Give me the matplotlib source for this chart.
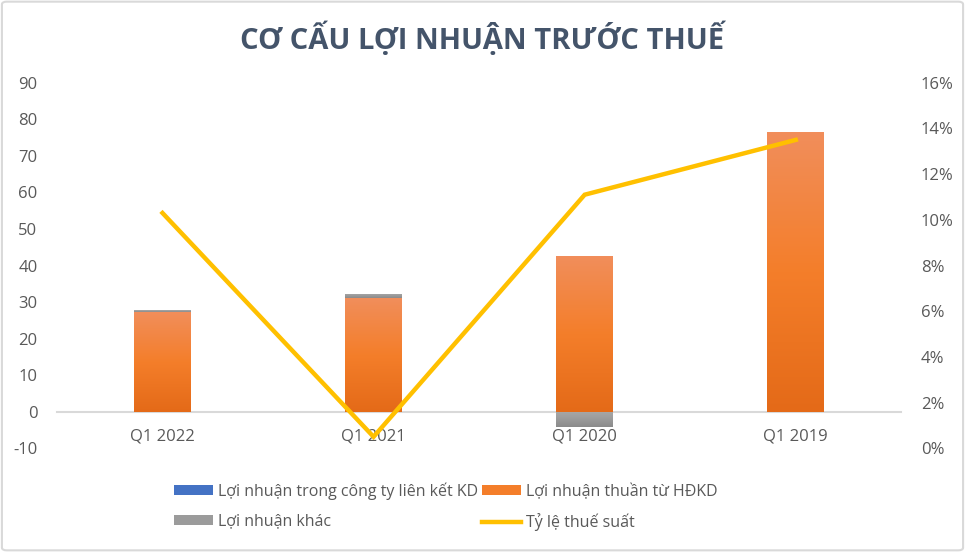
import numpy as np
import matplotlib.pyplot as plt
from matplotlib.patches import FancyBboxPatch
from matplotlib.ticker import FuncFormatter
from matplotlib.colors import LinearSegmentedColormap

plt.rcParams['font.family'] = ['Open Sans', 'DejaVu Sans']
plt.rcParams['axes.unicode_minus'] = False

# data
quarters = ["Q1 2022", "Q1 2021", "Q1 2020", "Q1 2019"]
ln_lien_ket = [0.0, 0.0, 0.0, 0.0]        # Lợi nhuận trong công ty liên kết KD
ln_hdkd = [27.3, 31.0, 42.5, 76.4]        # Lợi nhuận thuần từ HĐKD
ln_khac = [0.5, 1.3, -4.3, 0.0]           # Lợi nhuận khác
ty_le_thue = [0.103, 0.005, 0.111, 0.135] # Tỷ lệ thuế suất

text_col = "#595959"
orange_grad = ["#F18E5B", "#F47E2A", "#E46A18"]
grey_grad = ["#A8A8A8", "#9B9B9B", "#8A8A8A"]

fig = plt.figure(figsize=(9.65, 5.52), dpi=100)
ax = fig.add_axes([0.059, 0.188, 0.875, 0.662])
ax2 = ax.twinx()

x = np.arange(len(quarters))
w = 0.27


# vertical gradient inside each bar
def grad_bars(bars, cols):
    cmap = LinearSegmentedColormap.from_list("g", cols[::-1])
    g = np.linspace(0, 1, 256).reshape(-1, 1)
    for b in bars:
        h = b.get_height()
        if h == 0:
            continue
        x0 = b.get_x()
        y0, y1 = b.get_y(), b.get_y() + h
        im = ax.imshow(g, cmap=cmap, origin="lower", aspect="auto",
                       extent=[x0, x0 + b.get_width(), min(y0, y1), max(y0, y1)],
                       zorder=2)
        im.set_clip_path(b)


b1 = ax.bar(x, ln_lien_ket, w, color="#4472C4", label="Lợi nhuận trong công ty liên kết KD", zorder=2)
b2 = ax.bar(x, ln_hdkd, w, color=orange_grad[1], label="Lợi nhuận thuần từ HĐKD", zorder=2)
khac_bottom = [ln_hdkd[i] if v >= 0 else 0 for i, v in enumerate(ln_khac)]
b3 = ax.bar(x, ln_khac, w, bottom=khac_bottom, color=grey_grad[1], label="Lợi nhuận khác", zorder=2)
grad_bars(b2, orange_grad)
grad_bars(b3, grey_grad)

ln, = ax2.plot(x, ty_le_thue, color="#FFC000", lw=3.2, label="Tỷ lệ thuế suất",
               solid_joinstyle="miter", zorder=3)

ax.set_xlim(-0.5, 3.5)
ax.set_ylim(-10, 90)
ax.set_yticks(range(-10, 91, 10))
ax2.set_ylim(0, 0.16)
ax2.set_yticks(np.arange(0, 0.161, 0.02))
ax2.yaxis.set_major_formatter(FuncFormatter(lambda v, p: f"{v*100:.0f}%"))

for a in (ax, ax2):
    for s in a.spines.values():
        s.set_visible(False)
    a.tick_params(length=0, labelsize=12, colors=text_col)
ax.tick_params(axis="y", pad=14)
ax2.tick_params(axis="y", pad=14)

ax.spines["bottom"].set_visible(True)
ax.spines["bottom"].set_position(("data", 0))
ax.spines["bottom"].set_color("#D9D9D9")
ax.spines["bottom"].set_linewidth(1.5)
ax.spines["bottom"].set_zorder(1)
ax.set_xticks(x)
ax.set_xticklabels(quarters)
ax.tick_params(axis="x", pad=12)
ax.set_zorder(ax2.get_zorder() - 1)
ax.patch.set_visible(False)

fig.text(0.5, 0.93, "CƠ CẤU LỢI NHUẬN TRƯỚC THUẾ", ha="center", va="center",
         fontsize=21, fontweight="bold", color="#44546A")

# row-major order like Excel: blue, orange / grey, line
fig.legend(handles=[b1, b3, b2, ln], ncol=2, loc="center", bbox_to_anchor=(0.462, 0.082),
           frameon=False, fontsize=11.5, labelcolor=text_col, handlelength=2.4,
           handleheight=0.6, columnspacing=0.3, handletextpad=0.3, labelspacing=0.85)

fig.patches.append(FancyBboxPatch((0.002, 0.003), 0.996, 0.994, boxstyle="round,pad=0,rounding_size=0.005",
                                  transform=fig.transFigure, fill=False, ec="#D9D9D9", lw=1.5))

fig.savefig("out.png", dpi=100)
